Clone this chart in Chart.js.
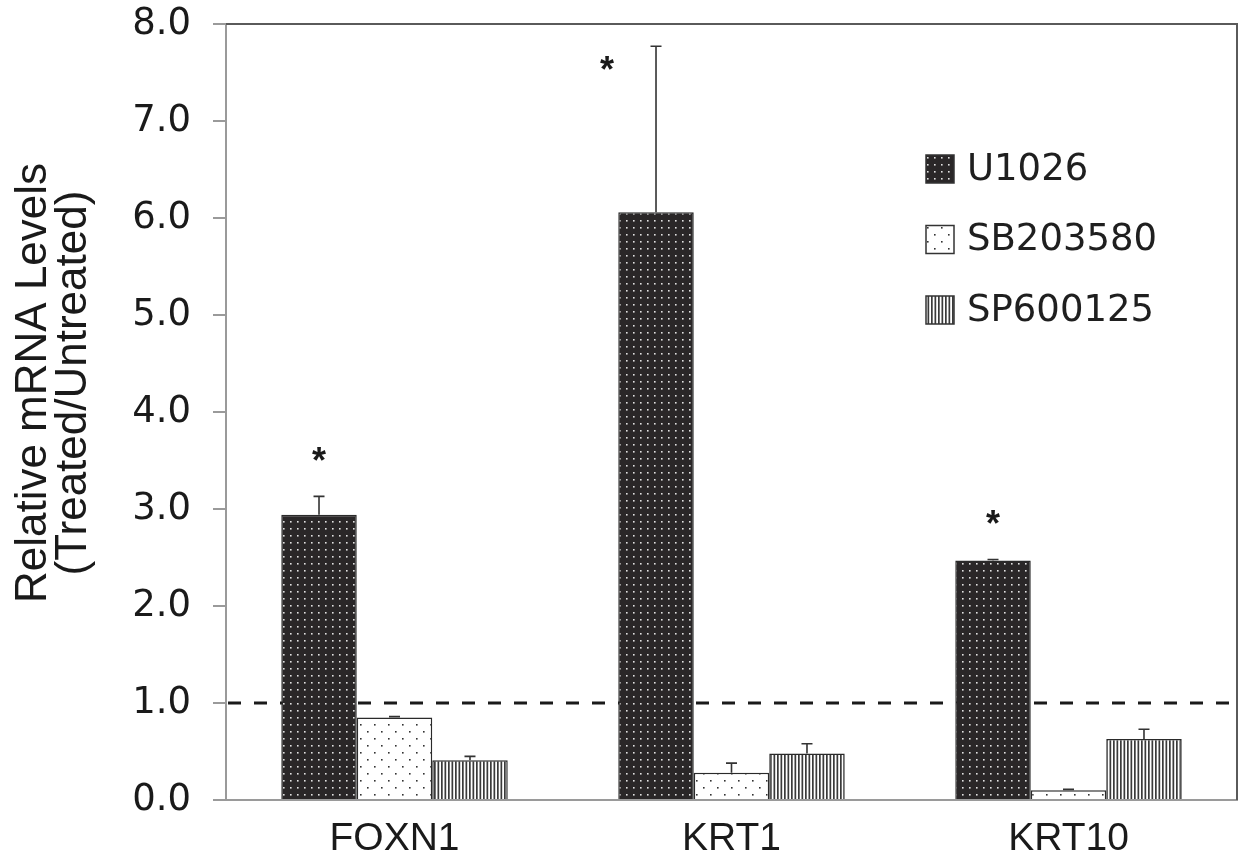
<!DOCTYPE html>
<html>
<head>
<meta charset="utf-8">
<script src="https://cdn.jsdelivr.net/npm/chart.js"></script>
<style>
  html, body { margin: 0; padding: 0; background: #fff; }
  #wrap { width: 1243px; height: 867px; }
</style>
</head>
<body>
<div id="wrap"><canvas id="c" width="1243" height="867"></canvas></div>
<script>
// ---- data ----
const categories = ['FOXN1', 'KRT1', 'KRT10'];
const seriesNames = ['U1026', 'SB203580', 'SP600125'];
const u1026 = [2.94, 6.06, 2.47];
const sb203580 = [0.85, 0.28, 0.10];
const sp600125 = [0.41, 0.48, 0.63];
const errU1026 = [0.19, 1.71, 0.01];
const errSB203580 = [0.01, 0.10, 0.01];
const errSP600125 = [0.04, 0.10, 0.10];
const significant = [true, true, true];   // asterisks on U1026 bars
const yTicks = [0, 1, 2, 3, 4, 5, 6, 7, 8];
const referenceLevel = 1.0;
const yTitleLines = ['Relative mRNA Levels', '(Treated/Untreated)'];

// ---- patterns ----
function makePattern(kind) {
  const c = document.createElement('canvas');
  const g = c.getContext('2d');
  if (kind === 'dark') {
    c.width = 7; c.height = 7;
    g.fillStyle = '#2a2728'; g.fillRect(0, 0, 7, 7);
    g.fillStyle = '#e2e2e2';
    g.fillRect(3, 3, 1.6, 1.6);
  } else if (kind === 'light') {
    c.width = 14; c.height = 14;
    g.fillStyle = '#ffffff'; g.fillRect(0, 0, 14, 14);
    g.fillStyle = '#333';
    g.fillRect(3, 3, 1.6, 1.6);
    g.fillRect(10, 10, 1.6, 1.6);
  } else {
    c.width = 7; c.height = 4;
    g.fillStyle = '#ffffff'; g.fillRect(0, 0, 7, 4);
    g.fillStyle = '#3a3a3a';
    g.fillRect(0, 0, 1.7, 4);
    g.fillRect(3.5, 0, 1.7, 4);
  }
  return g.createPattern(c, 'repeat');
}
const fills = [makePattern('dark'), makePattern('light'), makePattern('stripe')];
const values = [u1026, sb203580, sp600125];
const errors = [errU1026, errSB203580, errSP600125];

// ---- plugins ----
const refLine = {
  id: 'refLine',
  beforeDatasetsDraw(chart) {
    const {ctx, chartArea, scales} = chart;
    const y = scales.y.getPixelForValue(referenceLevel);
    ctx.save();
    ctx.strokeStyle = '#1a1a1a';
    ctx.lineWidth = 3;
    ctx.setLineDash([13, 13]);
    ctx.beginPath();
    ctx.moveTo(chartArea.left + 2, y);
    ctx.lineTo(chartArea.right, y);
    ctx.stroke();
    ctx.restore();
  }
};

const errorBars = {
  id: 'errorBars',
  afterDatasetsDraw(chart) {
    const {ctx, scales} = chart;
    ctx.save();
    ctx.strokeStyle = '#333';
    ctx.lineWidth = 1.6;
    chart.data.datasets.forEach((ds, di) => {
      const meta = chart.getDatasetMeta(di);
      meta.data.forEach((bar, i) => {
        const e = errors[di][i];
        const top = scales.y.getPixelForValue(values[di][i] + e);
        const base = bar.y;
        ctx.beginPath();
        ctx.moveTo(bar.x, base);
        ctx.lineTo(bar.x, top);
        ctx.moveTo(bar.x - 5.5, top);
        ctx.lineTo(bar.x + 5.5, top);
        ctx.stroke();
      });
    });
    ctx.restore();
  }
};

const asterisks = {
  id: 'asterisks',
  afterDatasetsDraw(chart) {
    const {ctx, scales, chartArea} = chart;
    const meta = chart.getDatasetMeta(0);
    ctx.save();
    ctx.fillStyle = '#1a1a1a';
    ctx.font = 'bold 36px "Liberation Sans", Arial, sans-serif';
    ctx.textAlign = 'center';
    ctx.textBaseline = 'alphabetic';
    meta.data.forEach((bar, i) => {
      if (!significant[i]) return;
      const top = scales.y.getPixelForValue(u1026[i] + errU1026[i]);
      let x = bar.x, cy = top - 44;
      if (cy < chartArea.top + 20) { x = bar.x - 49; cy = top + 15; }
      ctx.fillText('*', x, cy + 21);
    });
    ctx.restore();
  }
};

const frame = {
  id: 'frame',
  afterDraw(chart) {
    const {ctx, chartArea} = chart;
    ctx.save();
    ctx.strokeStyle = '#5a5a5a';
    ctx.lineWidth = 2;
    ctx.beginPath();
    ctx.moveTo(chartArea.left, chartArea.top);
    ctx.lineTo(chartArea.right, chartArea.top);
    ctx.lineTo(chartArea.right, chartArea.bottom);
    ctx.stroke();
    ctx.restore();
  }
};

const yTitle = {
  id: 'yTitle',
  afterDraw(chart) {
    const {ctx, chartArea} = chart;
    const cy = (chartArea.top + chartArea.bottom) / 2 - 29;
    ctx.save();
    ctx.translate(0, cy);
    ctx.rotate(-Math.PI / 2);
    ctx.font = '44px "Liberation Sans", Arial, sans-serif';
    ctx.fillStyle = '#1a1a1a';
    ctx.textAlign = 'center';
    ctx.textBaseline = 'alphabetic';
    ctx.fillText(yTitleLines[0], 0, 46);
    ctx.fillText(yTitleLines[1], 0, 86);
    ctx.restore();
  }
};

const customLegend = {
  id: 'customLegend',
  afterDraw(chart) {
    const {ctx, chartArea} = chart;
    const x0 = chartArea.right - 311;
    const y0 = chartArea.top + 145;
    ctx.save();
    ctx.font = '37px "DejaVu Sans", sans-serif';
    ctx.textBaseline = 'middle';
    ctx.textAlign = 'left';
    seriesNames.forEach((name, i) => {
      const y = y0 + i * 70.5;
      ctx.fillStyle = fills[i];
      ctx.fillRect(x0, y - 14, 28, 28);
      ctx.strokeStyle = '#333';
      ctx.lineWidth = 1.5;
      ctx.strokeRect(x0, y - 14, 28, 28);
      ctx.fillStyle = '#1f1f1f';
      ctx.fillText(name, x0 + 41, y + 1);
    });
    ctx.restore();
  }
};

new Chart(document.getElementById('c'), {
  type: 'bar',
  data: {
    labels: categories,
    datasets: seriesNames.map((n, i) => ({
      label: n,
      data: values[i],
      backgroundColor: fills[i],
      borderColor: '#2a2a2a',
      borderWidth: 1.5,
      borderSkipped: 'bottom',
      categoryPercentage: 0.672,
      barPercentage: 1.0
    }))
  },
  options: {
    responsive: false,
    animation: false,
    devicePixelRatio: 1,
    layout: { padding: { left: 0, right: 6, top: 24, bottom: 0 } },
    plugins: { legend: { display: false }, tooltip: { enabled: false } },
    scales: {
      x: {
        grid: { display: false, drawTicks: false },
        border: { display: true, color: '#9a9a9a', width: 2 },
        ticks: { color: '#1a1a1a', font: { family: '"Liberation Sans", Arial, sans-serif', size: 39 }, padding: 16 },
        afterFit(s) { s.height = 67; s.paddingLeft = 0; s.paddingRight = 0; }
      },
      y: {
        min: 0, max: 8,
        afterBuildTicks(s) { s.ticks = yTicks.map(v => ({ value: v })); },
        grid: { drawOnChartArea: false, drawTicks: true, tickLength: 13, color: '#9a9a9a', lineWidth: 2 },
        border: { display: true, color: '#9a9a9a', width: 2 },
        ticks: {
          color: '#1a1a1a',
          padding: 22,
          font: { family: '"DejaVu Sans", sans-serif', size: 37 },
          callback: v => Number(v).toFixed(1)
        },
        title: { display: false },
        afterFit(s) { s.width = 226; s.paddingTop = 0; s.paddingBottom = 0; }
      }
    }
  },
  plugins: [refLine, errorBars, asterisks, frame, yTitle, customLegend]
});
</script>
</body>
</html>
